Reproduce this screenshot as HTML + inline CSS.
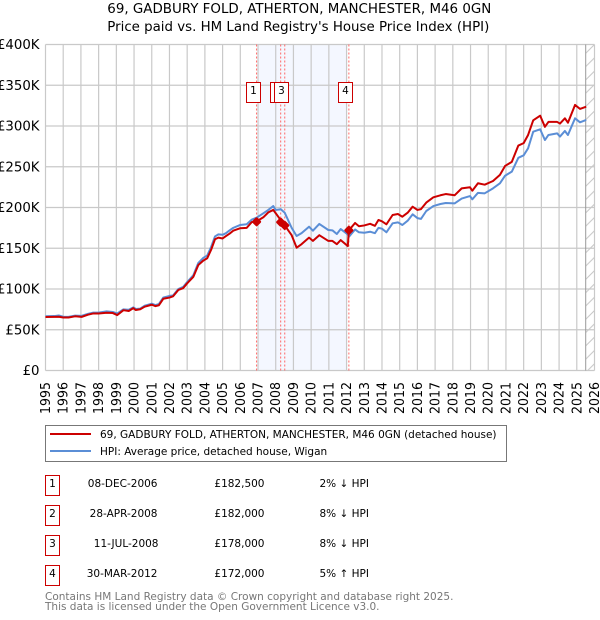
<!DOCTYPE html>
<html>
<head>
<meta charset="utf-8">
<title>69, Gadbury Fold price chart</title>
<style>
html,body{margin:0;padding:0;background:#fff;}
svg{display:block;}
text{font-family:"DejaVu Sans","Liberation Sans",sans-serif;fill:#000;}
</style>
</head>
<body>
<svg id="chart" width="600" height="620" viewBox="0 0 600 620" xmlns="http://www.w3.org/2000/svg">
<defs>
<pattern id="hatch" patternUnits="userSpaceOnUse" x="585.7" y="44.5" width="8.8" height="13.3">
<line x1="0" y1="8.8" x2="8.8" y2="0" stroke="#c4c4c4" stroke-width="1"/>
</pattern>
</defs>
<text x="107.3" y="13" font-size="13" textLength="384" lengthAdjust="spacingAndGlyphs">69, GADBURY FOLD, ATHERTON, MANCHESTER, M46 0GN</text>
<text x="107.3" y="31" font-size="13" textLength="382" lengthAdjust="spacingAndGlyphs">Price paid vs. HM Land Registry's House Price Index (HPI)</text>
<g id="plot"></g>

<rect x="45.5" y="425.5" width="461" height="36" fill="#fff" stroke="#777" stroke-width="1"/>
<line x1="50" x2="91" y1="434" y2="434" stroke="#cc0000" stroke-width="2"/>
<text x="100" y="438" font-size="10.5">69, GADBURY FOLD, ATHERTON, MANCHESTER, M46 0GN (detached house)</text>
<line x1="50" x2="91" y1="451" y2="451" stroke="#5b8ed6" stroke-width="2"/>
<text x="100" y="455" font-size="10.5">HPI: Average price, detached house, Wigan</text>

<g>
<rect x="45.5" y="475.5" width="14" height="20" fill="#fff" stroke="#cc0000" stroke-width="1"/>
<text x="52.5" y="487" text-anchor="middle" font-size="10.5">1</text>
<text x="157.5" y="487" text-anchor="end" font-size="10.5">08-DEC-2006</text>
<text x="264.5" y="487" text-anchor="end" font-size="10.5">£182,500</text>
<text x="319.5" y="487" font-size="10.5">2% ↓ HPI</text>
</g>
<g>
<rect x="45.5" y="505.5" width="14" height="20" fill="#fff" stroke="#cc0000" stroke-width="1"/>
<text x="52.5" y="517" text-anchor="middle" font-size="10.5">2</text>
<text x="157.5" y="517" text-anchor="end" font-size="10.5">28-APR-2008</text>
<text x="264.5" y="517" text-anchor="end" font-size="10.5">£182,000</text>
<text x="319.5" y="517" font-size="10.5">8% ↓ HPI</text>
</g>
<g>
<rect x="45.5" y="535.5" width="14" height="20" fill="#fff" stroke="#cc0000" stroke-width="1"/>
<text x="52.5" y="547" text-anchor="middle" font-size="10.5">3</text>
<text x="158.5" y="547" text-anchor="end" font-size="10.5">11-JUL-2008</text>
<text x="264.5" y="547" text-anchor="end" font-size="10.5">£178,000</text>
<text x="319.5" y="547" font-size="10.5">8% ↓ HPI</text>
</g>
<g>
<rect x="45.5" y="565.5" width="14" height="20" fill="#fff" stroke="#cc0000" stroke-width="1"/>
<text x="52.5" y="577" text-anchor="middle" font-size="10.5">4</text>
<text x="157.5" y="577" text-anchor="end" font-size="10.5">30-MAR-2012</text>
<text x="264.5" y="577" text-anchor="end" font-size="10.5">£172,000</text>
<text x="319.5" y="577" font-size="10.5">5% ↑ HPI</text>
</g>

<text x="45" y="600" font-size="10.5" style="fill:#777">Contains HM Land Registry data © Crown copyright and database right 2025.</text>
<text x="45" y="610" font-size="10.5" style="fill:#777">This data is licensed under the Open Government Licence v3.0.</text>
</svg>
<script>
const yearTicks = [1995,1996,1997,1998,1999,2000,2001,2002,2003,2004,2005,2006,2007,2008,2009,2010,2011,2012,2013,2014,2015,2016,2017,2018,2019,2020,2021,2022,2023,2024,2025,2026];
const priceTicks = [0,50,100,150,200,250,300,350,400];
const priceTickLabels = ['£0','£50K','£100K','£150K','£200K','£250K','£300K','£350K','£400K'];
const dates = [1995,1995.5,1995.75,1996,1996.3,1996.67,1997.04,1997.4,1997.7,1998,1998.45,1998.8,1999.05,1999.4,1999.7,1999.96,2000.1,2000.35,2000.6,2001,2001.2,2001.4,2001.65,2002,2002.2,2002.5,2002.77,2003,2003.35,2003.63,2003.9,2004.13,2004.35,2004.57,2004.76,2005,2005.19,2005.4,2005.6,2005.98,2006.36,2006.64,2006.92,2007.3,2007.58,2007.86,2008,2008.2,2008.28,2008.51,2008.9,2009.18,2009.46,2009.88,2010.1,2010.46,2010.97,2011.2,2011.45,2011.67,2012.07,2012.13,2012.48,2012.7,2013,2013.33,2013.6,2013.8,2014,2014.25,2014.6,2014.9,2015.15,2015.45,2015.73,2016,2016.2,2016.5,2016.9,2017.3,2017.6,2018.1,2018.5,2018.97,2019.1,2019.42,2019.8,2020.27,2020.66,2020.95,2021.33,2021.7,2022,2022.25,2022.54,2022.93,2023.2,2023.4,2023.89,2024.05,2024.33,2024.5,2024.9,2025.18,2025.53];
const pricePaid = [65.6,65.8,66,65,65,66.5,65.8,68.5,70,69.9,70.9,70.5,68,74,73,76.5,74.2,75.1,78.3,80.7,79,80,88,89.5,91,98.8,101,107,115,129.4,134.7,137.7,148,161,163,162,165,168,171.5,174.5,175,182,183,188,194,197,193,187,182,178,166,150.7,155,163,159,166,159,159,155,160,152.7,172,181,177,178,180,177.5,184.7,183,179.4,190.8,192,188.7,193.6,201,197,198,206,212.5,215,216.5,215,223.5,224.8,220.6,229.7,228,232.5,240,251,256,276,279,289,307,312.7,299,305,305,303,309.4,304,325.8,321,323.7];
const hpi = [66.6,66.8,67.5,66,65.8,67.3,67,69.5,71,71,72.5,71.8,70,75,74.5,77.5,75.5,76,79.5,82,80.3,81.5,89.5,91.5,92,100,102.5,108.5,117,132,138,141,151.5,164.5,167,166.5,168.5,172,175,178.5,179.4,185,187.5,192.9,197,201.8,197,197.5,198,193.5,175,165,168.5,176.4,171.5,179.8,172.4,172,167.5,173.6,167,164,173,169.6,169,170.3,168.5,175,174,169.6,180.6,181.8,178.5,183.8,191.6,187,186,195.7,201.8,204.3,205.5,205,211,214,210,218,217.4,223.5,229.7,239,244,261,264,272.6,293,296,282.8,289,291,287,293.9,289,309.4,304.5,307.4];
const saleDates = [2006.92,2008.28,2008.51,2012.13];
const salePrices = [182.5,182,178,172];
const saleLabels = ['1','2','3','4'];

const NS = 'http://www.w3.org/2000/svg';
const plot = document.getElementById('plot');
const X0 = 45.5, X1 = 594.5, Y0 = 370.5, Y1 = 44.5;
function xAt(t){ return X0 + (t - 1995) * (X1 - X0) / 31; }
function yAt(v){ return Y0 - v * (Y0 - Y1) / 400; }
function make(tag, attrs){
  const el = document.createElementNS(NS, tag);
  for (const k in attrs) el.setAttribute(k, attrs[k]);
  plot.appendChild(el);
  return el;
}
function pathFrom(ts, vs){
  return ts.map((t, i) => (i ? 'L' : 'M') + xAt(t).toFixed(2) + ' ' + yAt(vs[i]).toFixed(2)).join('');
}

const shade = make('rect', {x: xAt(2007), y: Y1, width: xAt(2012) - xAt(2007), height: Y0 - Y1, fill: '#f4f7ff'});



const forecast = make('rect', {x: 585.7, y: Y1, width: X1 - 585.7, height: Y0 - Y1, fill: 'url(#hatch)'});



priceTicks.forEach((v, i) => {
  const g = make('line', {x1: X0, x2: X1, y1: yAt(v), y2: yAt(v), stroke: '#c9c9c9', 'stroke-width': 1.2});
  
  
  const t = make('text', {x: 39.5, y: yAt(v) + 4.5, 'text-anchor': 'end', 'font-size': 13.3});
  
  
  t.textContent = priceTickLabels[i];
});

yearTicks.forEach((yr) => {
  const px = xAt(yr);
  const g = make('line', {x1: px, x2: px, y1: Y1, y2: Y0, stroke: '#c9c9c9', 'stroke-width': 1.2});
  
  
  const t = make('text', {x: 0, y: 0, 'text-anchor': 'end', 'font-size': 13, textLength: 32, lengthAdjust: 'spacingAndGlyphs', transform: 'translate(' + (px + 4.5) + ',382) rotate(-90)'});
  
  
  t.textContent = String(yr);
});

const endLine = make('line', {x1: 585.7, x2: 585.7, y1: Y1, y2: Y0, stroke: '#999', 'stroke-width': 1});



saleDates.forEach((d) => {
  const l = make('line', {x1: xAt(d), x2: xAt(d), y1: Y1, y2: Y0, stroke: '#ff6666', 'stroke-width': 1, 'stroke-dasharray': '2 2'});
  
  
});

const hpiLine = make('path', {d: pathFrom(dates, hpi), fill: 'none', stroke: '#5b8ed6', 'stroke-width': 2, 'stroke-linejoin': 'round'});



const paidLine = make('path', {d: pathFrom(dates, pricePaid), fill: 'none', stroke: '#cc0000', 'stroke-width': 2, 'stroke-linejoin': 'round'});



saleDates.forEach((d, i) => {
  const px = xAt(d), py = yAt(salePrices[i]);
  const m = make('rect', {x: px - 3.6, y: py - 3.6, width: 7.2, height: 7.2, rx: 1.5, fill: '#cc0000', transform: 'rotate(45 ' + px + ' ' + py + ')'});
  
  
  const bx = Math.floor(px - 10) + 0.5;
  const b = make('rect', {x: bx, y: 82.5, width: 14, height: 20, fill: '#fff', stroke: '#cc0000', 'stroke-width': 1});
  
  
  const t = make('text', {x: bx + 7, y: 94, 'text-anchor': 'middle', 'font-size': 10.5});
  
  
  t.textContent = saleLabels[i];
});
</script>
</body>
</html>
